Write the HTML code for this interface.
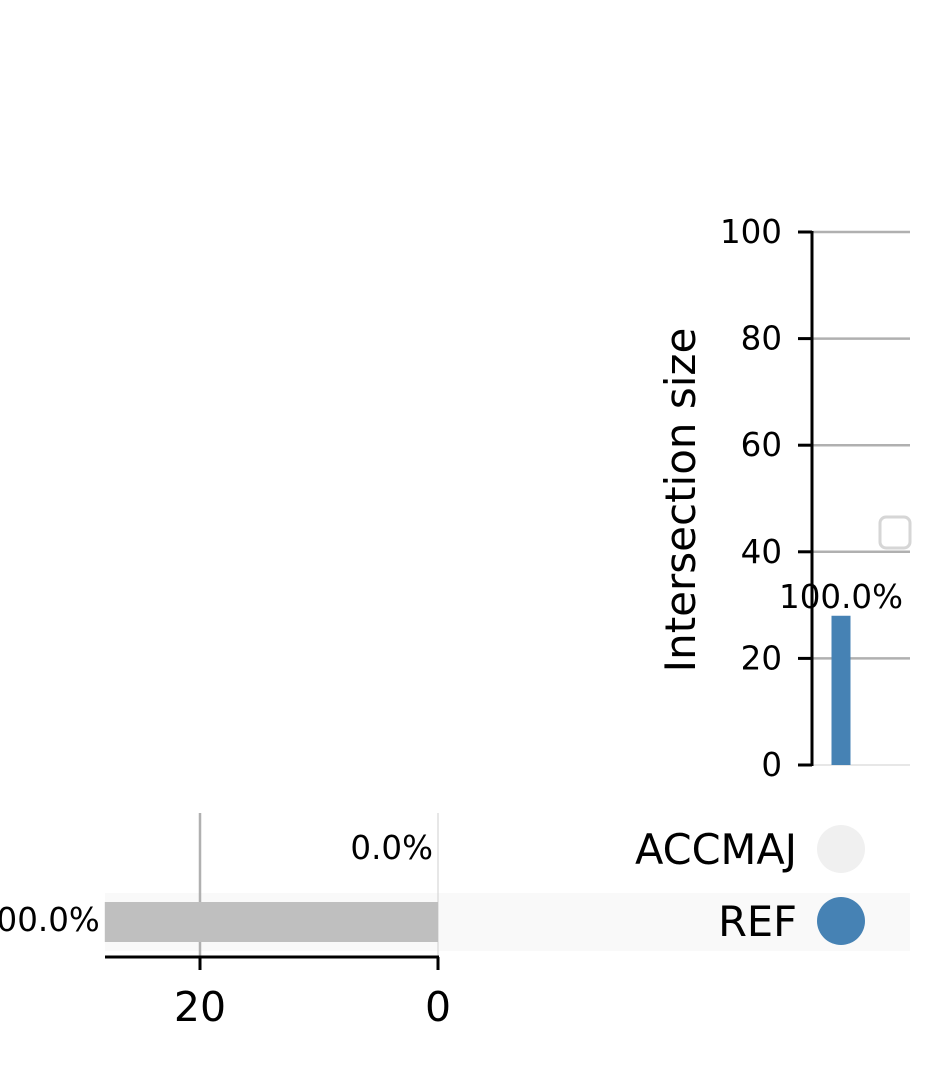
<!DOCTYPE html>
<html><head><meta charset="utf-8">
<style>
html,body{margin:0;padding:0;background:#fff;}
svg{display:block;font-family:"DejaVu Sans","Liberation Sans",sans-serif;}
</style></head>
<body>
<svg id="chart" width="933" height="1066" viewBox="0 0 933 1066"></svg>
<script>
const intersectionCounts = [28];
const intersectionLabels = ["100.0%"];
const intersectionYTicks = [0, 20, 40, 60, 80, 100];
const setNames = ["ACCMAJ", "REF"];
const setSizes = [0, 28];
const setSizeLabels = ["0.0%", "100.0%"];
const setXTicks = [20, 0];
const memberships = [[false, true]]; // per intersection, per set

const NS = "http://www.w3.org/2000/svg";
const svg = document.getElementById("chart");
function mk(tag, attrs, parent, text){
  const e = document.createElementNS(NS, tag);
  for (const k in attrs) e.setAttribute(k, attrs[k]);
  if (text !== undefined) e.textContent = text;
  (parent || svg).appendChild(e);
  return e;
}
const yI = v => 765 - v * (765 - 232) / 100;
const xS = v => 438 - v * (438 - 200) / 20;
const rowY = [849, 921];
const colX = [841];

intersectionYTicks.forEach(t => {
  const g = mk("line", {x1: 812, x2: 910, y1: yI(t), y2: yI(t), stroke: t === 0 ? "#cfcfcf" : "#b0b0b0", "stroke-width": t === 0 ? 1 : 2.5});
  
  
  const tk = mk("line", {x1: 798, x2: 812, y1: yI(t), y2: yI(t), stroke: "#000", "stroke-width": 3});
  
  
  const lb = mk("text", {x: 782, y: yI(t) + 11, "text-anchor": "end", "font-size": 32.5, fill: "#000"}, svg, String(t));
  
  
});
const yax = mk("line", {x1: 812, x2: 812, y1: 231, y2: 766, stroke: "#000", "stroke-width": 3});


const yt = mk("text", {x: 0, y: 0, transform: "translate(695,500) rotate(-90)", "text-anchor": "middle", "font-size": 42, fill: "#000"}, svg, "Intersection size");



intersectionCounts.forEach((c, i) => {
  const b = mk("rect", {x: colX[i] - 9.5, y: yI(c), width: 19, height: yI(0) - yI(c), fill: "#4682b4"});
  
  
  const l = mk("text", {x: colX[i], y: yI(c) - 8, "text-anchor": "middle", "font-size": 32.5, fill: "#000"}, svg, intersectionLabels[i]);
  
  
});

const lg = mk("rect", {x: 880, y: 517, width: 30, height: 31, rx: 6, fill: "#fff", stroke: "#d6d6d6", "stroke-width": 3});



const sh = mk("rect", {x: 105, y: 893, width: 805, height: 58, fill: "#f9f9f9"});



setXTicks.forEach(t => {
  const g = mk("line", {x1: xS(t), x2: xS(t), y1: 813, y2: 957, stroke: t === 0 ? "#cfcfcf" : "#b0b0b0", "stroke-width": t === 0 ? 1 : 2.5});
  
  
});

setSizes.forEach((s, i) => {
  const b = mk("rect", {x: xS(s), y: rowY[i] - 19, width: xS(0) - xS(s), height: 40, fill: "#bfbfbf"});
  
  
  const l = mk("text", {x: xS(s) - 5, y: rowY[i] + 10, "text-anchor": "end", "font-size": 32.5, fill: "#000"}, svg, setSizeLabels[i]);
  
  
  const n = mk("text", {x: 797, y: rowY[i] + 15, "text-anchor": "end", "font-size": 41.5, fill: "#000"}, svg, setNames[i]);
  
  
});

const xax = mk("line", {x1: 105, x2: 439, y1: 957, y2: 957, stroke: "#000", "stroke-width": 3});


setXTicks.forEach(t => {
  const tk = mk("line", {x1: xS(t), x2: xS(t), y1: 957, y2: 970, stroke: "#000", "stroke-width": 3});
  
  
  const lb = mk("text", {x: xS(t), y: 1021, "text-anchor": "middle", "font-size": 41, fill: "#000"}, svg, String(t));
  
  
});

memberships.forEach((col, i) => {
  col.forEach((m, j) => {
    const d = mk("circle", {cx: colX[i], cy: rowY[j], r: 24, fill: m ? "#4682b4" : "#f0f0f0"});
    
    
  });
});
</script>
</body></html>
